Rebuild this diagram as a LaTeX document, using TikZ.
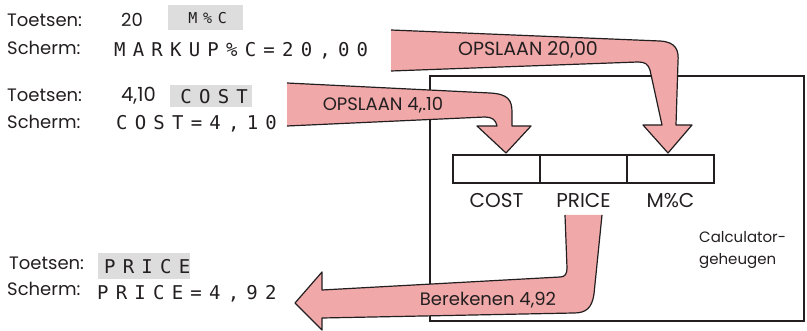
\documentclass[tikz,border=0pt]{standalone}
\usepackage{fontspec}
\usetikzlibrary{positioning}
\setmainfont{Poppins}
\newfontfamily\lcdfont[LetterSpace=38]{DejaVu Sans Mono}
\definecolor{arrowpink}{RGB}{240,168,168}
\definecolor{keygray} {RGB}{221,221,221}
\definecolor{inkdark} {RGB}{35,31,32}

\begin{document}
\begin{tikzpicture}[x=1pt,y=-1pt,
    txt/.style={anchor=base west,inner sep=0pt,text=inkdark,
                font=\fontsize{18}{20}\selectfont},
    lcd/.style={anchor=base west,inner sep=0pt,text=inkdark,
                font=\lcdfont\fontsize{19}{20}\selectfont},
    keybox/.style={anchor=north west,fill=keygray,inner sep=0pt,text=inkdark,
                font=\lcdfont\fontsize{19}{20}\selectfont},
    reg/.style={rectangle,draw=inkdark,line width=1.6pt,outer sep=0pt,
                minimum width=87pt,minimum height=28pt,inner sep=0pt},
    reglabel/.style={inner sep=0pt,text=inkdark,font=\fontsize{20}{22}\selectfont},
    fatarrow/.style={fill=arrowpink,draw=inkdark,line width=1.2pt,line join=round},
    arrowlabel/.style={inner sep=0pt,text=inkdark,font=\fontsize{18}{20}\selectfont}
  ]
    \useasboundingbox (0,0) rectangle (807,331);

    % toetsen en scherm
    \node[txt] (t1) at (7,27)   {Toetsen:};
    \node[txt] (s1) at (7,55)   {Scherm:};
    \node[txt] (t2) at (7,102)  {Toetsen:};
    \node[txt] (s2) at (7,129)  {Scherm:};
    \node[txt] (t3) at (9,270)  {Toetsen:};
    \node[txt] (s3) at (7,296)  {Scherm:};

    \node[txt] (n1) at (121,27)  {20};
    \node[txt,font=\fontsize{19.5}{20}\selectfont] (n2) at (121,102) {4,10};
    \node[keybox,minimum width=75pt,minimum height=25pt,
          font=\lcdfont\fontsize{15}{16}\selectfont] (kmc)    at (168,5)  {\hspace*{4pt}M\%C};
    \node[keybox,minimum width=82pt,minimum height=22pt]  (kcost)  at (170,85) {\hspace*{6pt}COST};
    \node[keybox,minimum width=92pt,minimum height=26pt]  (kprice) at (98,253) {\hspace*{6pt}PRICE};

    \node[lcd] (d1) at (114,57)  {MARKUP\%C=20,00};
    \node[lcd] (d2) at (116,130) {COST=4,10};
    \node[lcd] (d3) at (97,300)  {PRICE=4,92};

    % geheugen
    \node[rectangle,draw=inkdark,line width=1.6pt,anchor=north west,
          minimum width=374pt,minimum height=245pt] (mem) at (429,75) {};
    \node[reg] (cost) at (496.5,169) {};
    \node[reg,right=0pt of cost]  (price) {};
    \node[reg,right=0pt of price] (mpc)   {};
    \node[reglabel,below=10pt of cost]  {COST};
    \node[reglabel,below=10pt of price] {PRICE};
    \node[reglabel,below=10pt of mpc]   {M\%C};
    \node[anchor=base west,inner sep=0pt,align=left,text=inkdark,
          font=\fontsize{15}{22}\selectfont] (calc) at (699,265)
          {Calculator-\\geheugen};

    % pijlen
    \path[fatarrow] (391,30) -- (660,41) .. controls (676,42) and (679,50) .. (678,62)
      -- (676,125) -- (692,125) -- (668,153) -- (643,125) -- (662,125)
      -- (650,70) .. controls (648,64) and (645,62) .. (638,62) -- (391,71);
    \node[arrowlabel,font=\fontsize{19}{20}\selectfont] (op1) at (528,50) {OPSLAAN 20,00};

    \path[fatarrow] (287,83) -- (490,93) .. controls (508,94) and (512,100) .. (512,112)
      -- (512,126) -- (531,126) -- (506,153) -- (477,126) -- (497,126)
      .. controls (496,120) and (492,117) .. (485,117) -- (287,126);
    \node[arrowlabel] (op2) at (383,105) {OPSLAAN 4,.10};

    \path[fatarrow] (565,215) -- (567,268) .. controls (567,274) and (565,277) .. (560,277)
      -- (322,290) -- (322,272) -- (295,303) -- (322,330) -- (322,318)
      -- (574,313) .. controls (586,313) and (592,308) .. (594,294) -- (602,215);
    \node[arrowlabel] (ber) at (488,300) {Berekenen 4,92};
  \end{tikzpicture}
\end{document}
